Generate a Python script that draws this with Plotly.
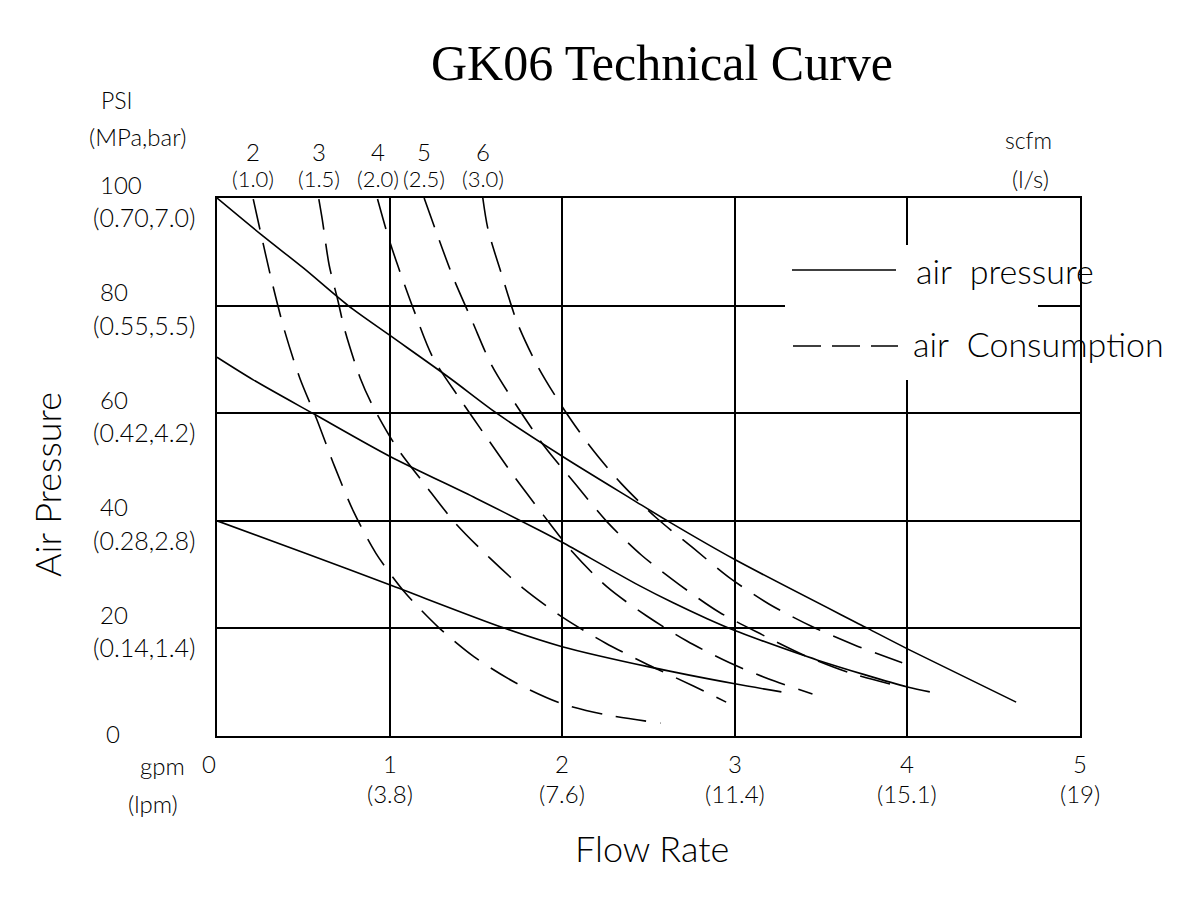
import plotly.graph_objects as go

# air pressure curves (gpm vs psi), inlet 100 / 70 / 40 psi
gpm_p100 = [0, 0.26, 0.5, 0.76, 1.0, 1.35, 1.62, 2.0, 2.41, 2.62, 3.0, 3.77, 4.0, 4.63]
psi_p100 = [100, 93.1, 87, 80, 74.5, 66.5, 60, 52, 43.9, 39.8, 32.8, 20, 16.2, 6.3]
gpm_p70 = [0, 0.21, 0.57, 1.0, 1.5, 1.87, 2.0, 2.26, 2.45, 2.64, 2.84, 3.0, 3.15, 3.48, 4.0, 4.13]
psi_p70 = [70.4, 66.2, 59.7, 52, 44.2, 38.2, 36.0, 31.3, 27.9, 24.8, 21.8, 19.6, 17.8, 14.1, 9.1, 8.2]
gpm_p40 = [0, 0.5, 1.0, 1.66, 2.0, 2.51, 3.0, 3.27]
psi_p40 = [40, 34.1, 28.1, 20.1, 16.6, 12.8, 9.7, 8.2]

# air consumption curves, 2..6 scfm
gpm_c2 = [0.21, 0.25, 0.32, 0.39, 0.48, 0.58, 0.68, 0.79, 0.92, 1.08, 1.28, 1.49, 1.73, 1.99, 2.26, 2.57]
psi_c2 = [99.8, 94, 84.2, 75.5, 66.5, 58.7, 50.2, 41.8, 34.0, 27.0, 20.3, 14.7, 9.9, 6.1, 3.9, 2.4]
gpm_c3 = [0.59, 0.61, 0.65, 0.70, 0.74, 0.83, 0.90, 1.04, 1.21, 1.38, 1.58, 1.78, 2.01, 2.25, 2.50, 2.76, 2.95]
psi_c3 = [99.8, 96, 87.5, 81, 75.5, 66.5, 61.5, 53.7, 46.5, 39.6, 33.1, 27.3, 21.9, 17.3, 13.2, 9.3, 6.3]
gpm_c4 = [0.93, 0.99, 1.05, 1.14, 1.25, 1.40, 1.56, 1.72, 1.89, 2.06, 2.26, 2.49, 2.72, 2.97, 3.23, 3.45]
psi_c4 = [99.8, 93, 87.2, 79.2, 70.4, 63, 55.6, 48.3, 41.1, 34.2, 27.7, 22.3, 17.7, 13.6, 10.2, 7.8]
gpm_c5 = [1.20, 1.27, 1.37, 1.48, 1.59, 1.74, 1.90, 2.08, 2.26, 2.46, 2.68, 2.91, 3.16, 3.41, 3.67, 3.97]
psi_c5 = [100, 93.7, 85.1, 77, 69, 61.2, 53.7, 46.7, 39.8, 33.6, 28.1, 23.0, 18.8, 14.9, 11.7, 9.1]
gpm_c6 = [1.54, 1.57, 1.65, 1.74, 1.86, 2.00, 2.16, 2.34, 2.54, 2.76, 2.97, 3.20, 3.45, 3.71, 3.97]
psi_c6 = [100, 94.2, 85.7, 76.8, 68.6, 61.2, 53.9, 47.0, 40.7, 34.9, 29.4, 24.5, 20.3, 16.7, 13.6]

scfm_labels = ["2", "3", "4", "5", "6"]
ls_labels = ["(1.0)", "(1.5)", "(2.0)", "(2.5)", "(3.0)"]

psi_ticks = [0, 20, 40, 60, 80, 100]
mpa_labels = ["", "(0.14,1.4)", "(0.28,2.8)", "(0.42,4.2)", "(0.55,5.5)", "(0.70,7.0)"]
gpm_ticks = [0, 1, 2, 3, 4, 5]
lpm_labels = ["", "(3.8)", "(7.6)", "(11.4)", "(15.1)", "(19)"]

CAD = "Lato, Liberation Sans, sans-serif"
# plot area on screen (page body has an 8px margin)
L, R, T, B = 217, 1080, 198, 736
OFF = 8
TW = 300  # thin CAD-like strokes


def px(xp, yp):
    return (xp - L) / (R - L), (B - yp) / (B - T)


def label(text, xp, yp, size, xanchor="center", weight=TW):
    x, y = px(xp, yp)
    return dict(x=x, y=y, xref="paper", yref="paper", text=text, showarrow=False,
                xanchor=xanchor, yanchor="middle", font=dict(size=size, weight=weight))


fig = go.Figure()

for xs, ys in [(gpm_p100, psi_p100), (gpm_p70, psi_p70), (gpm_p40, psi_p40)]:
    fig.add_trace(go.Scatter(x=xs, y=ys, mode="lines", line=dict(color="black", width=1.6, shape="spline", smoothing=0.8)))

consumption = [(gpm_c2, psi_c2), (gpm_c3, psi_c3), (gpm_c4, psi_c4), (gpm_c5, psi_c5), (gpm_c6, psi_c6)]
for xs, ys in consumption:
    fig.add_trace(go.Scatter(x=xs, y=ys, mode="lines",
                             line=dict(color="black", width=1.6, dash="31px,14px", shape="spline", smoothing=0.8)))

ann = []
# top scfm labels above each consumption curve
for (xs, ys), s, l in zip(consumption, scfm_labels, ls_labels):
    ann.append(dict(x=xs[0], y=1, xref="x", yref="paper", text=s, showarrow=False, yshift=47,
                    xanchor="center", yanchor="middle", font=dict(size=24, weight=TW)))
    ann.append(dict(x=xs[0], y=1, xref="x", yref="paper", text=l, showarrow=False, yshift=20,
                    xanchor="center", yanchor="middle", font=dict(size=22, weight=TW)))

# y tick labels
for v, m in zip(psi_ticks, mpa_labels):
    if m:
        ann.append(dict(x=px(98, 0)[0], y=v, xref="paper", yref="y", text=str(v), showarrow=False,
                        xanchor="left", yanchor="middle", yshift=14, font=dict(size=24, weight=TW)))
        ann.append(dict(x=px(91, 0)[0], y=v, xref="paper", yref="y", text=m, showarrow=False,
                        xanchor="left", yanchor="middle", yshift=-19, font=dict(size=25, weight=TW)))
    else:
        ann.append(dict(x=px(104, 0)[0], y=v, xref="paper", yref="y", text=str(v), showarrow=False,
                        xanchor="left", yanchor="middle", yshift=3, font=dict(size=24, weight=TW)))

# x tick labels
for v, m in zip(gpm_ticks, lpm_labels):
    ann.append(dict(x=v, y=0, xref="x", yref="paper", text=str(v), showarrow=False,
                    xanchor="center", yanchor="middle",
                    yshift=-27, xshift=-8 if v == 0 else 0, font=dict(size=24, weight=TW)))
    if m:
        ann.append(dict(x=v, y=0, xref="x", yref="paper", text=m, showarrow=False,
                        xanchor="center", yanchor="middle", yshift=-57, font=dict(size=24, weight=TW)))

# unit captions
for text, xp, yp, size in [("PSI", 117, 100, 23), ("(MPa,bar)", 137, 137, 24), ("gpm", 162, 765, 24),
                           ("(lpm)", 153, 803, 24), ("scfm", 1028, 140, 23), ("(l/s)", 1030, 178, 24)]:
    ann.append(label(text, xp, yp, size))

# axis titles
t = label("Air Pressure", 47, 485, 36)
t["textangle"] = -90
ann.append(t)
ann.append(label("Flow Rate", 652, 848, 36))

# legend text
ann.append(label("air  pressure", 914, 270, 34, xanchor="left"))
ann.append(label("air  Consumption", 911, 343, 34, xanchor="left"))

shapes = []
# white box behind legend
x0, y0 = px(785, 380)
x1, y1 = px(1038, 245)
shapes.append(dict(type="rect", xref="paper", yref="paper", x0=x0, y0=y0, x1=x1, y1=y1,
                   fillcolor="white", line=dict(width=0), layer="above"))
x0, y0 = px(792, 270)
x1, _ = px(896, 270)
shapes.append(dict(type="line", xref="paper", yref="paper", x0=x0, y0=y0, x1=x1, y1=y0,
                   line=dict(color="black", width=1.6), layer="above"))
x0, y0 = px(793, 346)
x1, _ = px(898, 346)
shapes.append(dict(type="line", xref="paper", yref="paper", x0=x0, y0=y0, x1=x1, y1=y0,
                   line=dict(color="black", width=1.6, dash="28px,11px"), layer="above"))

fig.update_layout(
    width=1200, height=900,
    margin=dict(l=L - OFF, r=1200 + OFF - R, t=T - OFF, b=900 + OFF - B),
    paper_bgcolor="white", plot_bgcolor="white",
    showlegend=False,
    font=dict(family=CAD, color="black"),
    title=dict(text="GK06 Technical Curve", x=(662 - OFF) / 1200, xanchor="center",
               y=1 - (62 - OFF) / 900, yanchor="middle",
               font=dict(family="Liberation Serif, serif", size=50, color="black")),
    annotations=ann,
    shapes=shapes,
)
fig.update_xaxes(range=[0, 5], dtick=1, showgrid=True, gridcolor="black", gridwidth=2,
                 showline=True, mirror=True, linecolor="black", linewidth=2,
                 showticklabels=False, ticks="", zeroline=False)
fig.update_yaxes(range=[0, 100], dtick=20, showgrid=True, gridcolor="black", gridwidth=2,
                 showline=True, mirror=True, linecolor="black", linewidth=2,
                 showticklabels=False, ticks="", zeroline=False)

fig.write_html("out.html")
